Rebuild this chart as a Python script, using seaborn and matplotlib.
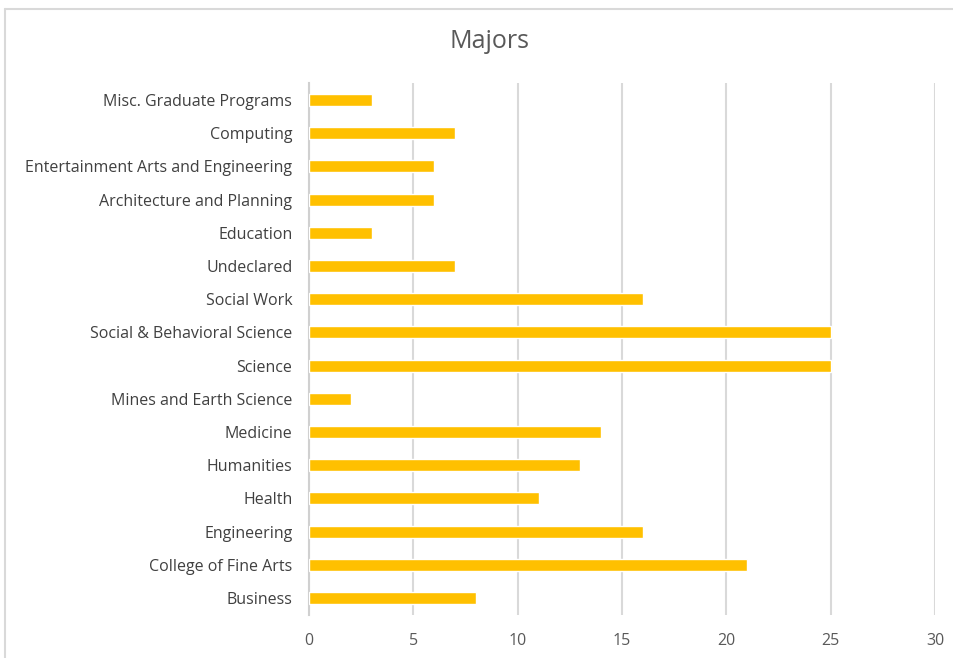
import matplotlib
matplotlib.use("Agg")
import matplotlib.pyplot as plt
import seaborn as sns
import pandas as pd
import numpy as np
from matplotlib.lines import Line2D

categories = [
    "Misc. Graduate Programs",
    "Computing",
    "Entertainment Arts and Engineering",
    "Architecture and Planning",
    "Education",
    "Undeclared",
    "Social Work",
    "Social & Behavioral Science",
    "Science",
    "Mines and Earth Science",
    "Medicine",
    "Humanities",
    "Health",
    "Engineering",
    "College of Fine Arts",
    "Business",
]
counts = [3, 7, 6, 6, 3, 7, 16, 25, 25, 2, 14, 13, 11, 16, 21, 8]
x_ticks = [0, 5, 10, 15, 20, 25, 30]

sns.set_theme(style="white")
plt.rcParams["font.family"] = ["Open Sans", "DejaVu Sans"]

df = pd.DataFrame({"major": categories, "count": counts})

fig = plt.figure(figsize=(9.54, 6.58), dpi=100)
ax = fig.add_axes([0.3239, 0.0660, 0.6562, 0.8073])

sns.barplot(data=df, y="major", x="count", order=categories, color="#FFC000",
            saturation=1, width=0.36, ax=ax, zorder=3)

ax.set_xlim(0, 30)
ax.set_ylim(len(categories) - 0.5, -0.5)
ax.set_xticks(x_ticks)
ax.set_xticklabels([str(t) for t in x_ticks])
ax.set_xlabel("")
ax.set_ylabel("")
ax.grid(axis="x", color="#d9d9d9", linewidth=1.5, zorder=0)
ax.set_axisbelow(True)

for s in ["top", "right", "bottom"]:
    ax.spines[s].set_visible(False)
ax.spines["left"].set_color("#d0d0d0")
ax.spines["left"].set_linewidth(1.5)

ax.tick_params(axis="x", length=0, labelsize=11.5, colors="#595959", pad=13)
ax.tick_params(axis="y", which="major", length=0, labelsize=11.5, colors="#404040", pad=12)
ax.set_yticks(np.arange(-0.5, len(categories), 1.0), minor=True)
ax.tick_params(axis="y", which="minor", length=5, width=1.5, color="#d0d0d0")

fig.text(0.513, 1 - 42 / 658, "Majors", ha="center", va="center",
         fontsize=18, color="#595959")

top_y = 1 - 8.5 / 658
left_x = 5.5 / 954
fig.add_artist(Line2D([left_x, 1.0], [top_y, top_y], transform=fig.transFigure,
                      color="#d9d9d9", linewidth=1.5))
fig.add_artist(Line2D([left_x, left_x], [0.0, top_y], transform=fig.transFigure,
                      color="#d9d9d9", linewidth=1.5))

fig.savefig("out.png", dpi=100, facecolor="white")
